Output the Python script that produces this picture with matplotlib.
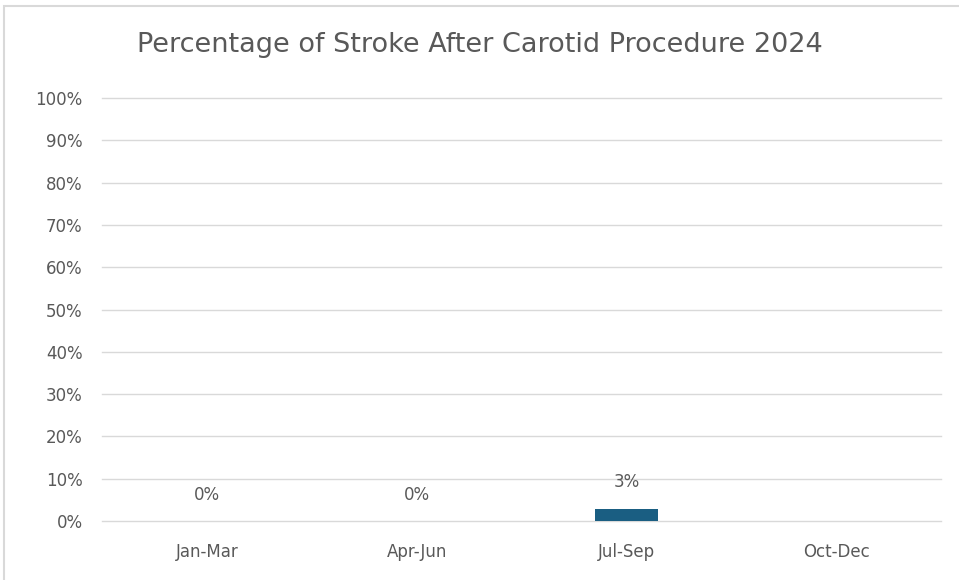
import numpy as np
import matplotlib.pyplot as plt
from matplotlib.patches import Rectangle

quarters = ["Jan-Mar", "Apr-Jun", "Jul-Sep", "Oct-Dec"]
stroke_pct = [0.0, 0.0, 0.029, np.nan]
value_labels = ["0%", "0%", "3%", ""]
yticks = np.arange(0, 1.01, 0.1)

plt.rcParams['font.family'] = ['DejaVu Sans']
text_col = "#595959"

fig = plt.figure(figsize=(9.59, 5.8), dpi=100)
ax = fig.add_axes([0.1064, 0.1017, 0.8748, 0.7293])

x = np.arange(len(quarters))
ax.bar(x, np.nan_to_num(stroke_pct), width=0.3, color="#1a5e82", zorder=3)

for xi, v, lab in zip(x, stroke_pct, value_labels):
    if lab:
        ax.annotate(lab, (xi, v), xytext=(0, 19), textcoords="offset points",
                    ha="center", va="center", fontsize=12, color=text_col)

ax.set_xlim(-0.5, 3.5)
ax.set_ylim(0, 1)
ax.set_yticks(yticks)
ax.set_yticklabels(["%d%%" % round(t * 100) for t in yticks])
ax.set_xticks(x)
ax.set_xticklabels(quarters)
ax.grid(axis="y", color="#d9d9d9", linewidth=1, zorder=0)
for gl in ax.get_ygridlines():
    gl.set_clip_on(False)
for s in ax.spines.values():
    s.set_visible(False)
ax.tick_params(axis="both", length=0, labelsize=12, colors=text_col)
ax.tick_params(axis="y", pad=14)
ax.tick_params(axis="x", pad=16)

fig.text(0.5, 0.922, "Percentage of Stroke After Carotid Procedure 2024",
         ha="center", va="center", fontsize=19.5, color=text_col)

fig.patches.append(Rectangle((0.004, -0.01), 1.2, 1.0, transform=fig.transFigure,
                             fill=False, edgecolor="#d9d9d9", linewidth=1.5))

fig.savefig("out.png", dpi=100)
